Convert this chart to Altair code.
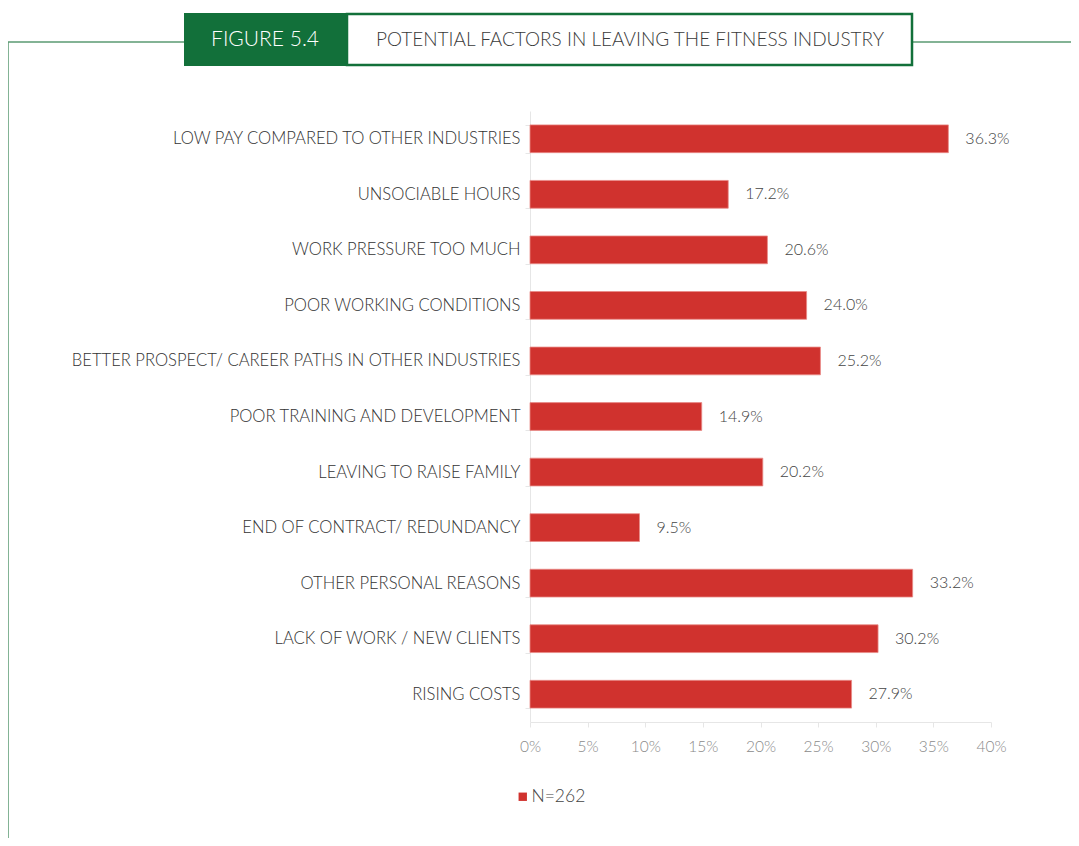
import altair as alt
import pandas as pd

categories = [
    "LOW PAY COMPARED TO OTHER INDUSTRIES",
    "UNSOCIABLE HOURS",
    "WORK PRESSURE TOO MUCH",
    "POOR WORKING CONDITIONS",
    "BETTER PROSPECT/ CAREER PATHS IN OTHER INDUSTRIES",
    "POOR TRAINING AND DEVELOPMENT",
    "LEAVING TO RAISE FAMILY",
    "END OF CONTRACT/ REDUNDANCY",
    "OTHER PERSONAL REASONS",
    "LACK OF WORK / NEW CLIENTS",
    "RISING COSTS",
]
values = [36.3, 17.2, 20.6, 24.0, 25.2, 14.9, 20.2, 9.5, 33.2, 30.2, 27.9]
series_name = "N=262"
x_ticks = [0, 5, 10, 15, 20, 25, 30, 35, 40]

RED = "#d0322e"
GREEN = "#12703a"
FONT = "Lato"

df = pd.DataFrame({"factor": categories, "pct": values, "series": [series_name] * len(values)})
df["label"] = [f"{v:.1f}%" for v in values]

W, H = 461, 611

y_enc = alt.Y(
    "factor:N", sort=categories, title=None,
    scale=alt.Scale(paddingInner=0.5, paddingOuter=0.25),
    axis=alt.Axis(labelFont=FONT, labelFontSize=16.6, labelFontWeight=300, labelColor="#333333",
                  labelPadding=5,
                  domainColor="#e6e6e6", tickColor="#e6e6e6", tickSize=5, tickBand="extent",
                  labelLimit=600),
)

bars = alt.Chart(df).mark_bar(stroke="#e88a86", strokeWidth=0.8).encode(
    y=y_enc,
    x=alt.X("pct:Q", title=None,
            scale=alt.Scale(domain=[0, 40], nice=False),
            axis=alt.Axis(values=x_ticks, labelExpr="datum.value + '%'", labelFont=FONT,
                          labelFontSize=15.5, labelFontWeight=300, labelColor="#8a8a8a",
                          labelPadding=12, labelFlush=False,
                          domainColor="#e6e6e6", tickColor="#e6e6e6", tickSize=5, grid=False)),
    color=alt.Color("series:N", scale=alt.Scale(range=[RED]),
                    legend=alt.Legend(title=None, orient="none", legendX=-16, legendY=677,
                                      symbolType="square", symbolSize=70, symbolStrokeWidth=0,
                                      labelFont=FONT, labelFontSize=17.5, labelFontWeight=300,
                                      labelColor="#444444", labelOffset=0)),
)

texts = alt.Chart(df).mark_text(align="left", dx=17, font=FONT, fontSize=16, fontWeight=300,
                                color="#444444").encode(
    y=alt.Y("factor:N", sort=categories),
    x="pct:Q",
    text="label:N",
)

# decorative frame (pixel positions relative to plot origin)
frame_h = alt.Chart(pd.DataFrame({"a": [0]})).mark_rule(color="#5a9a72", strokeWidth=1.5).encode(
    x=alt.value(-522), x2=alt.value(560), y=alt.value(-69))
frame_v = alt.Chart(pd.DataFrame({"a": [0]})).mark_rule(color="#5a9a72", strokeWidth=1.5).encode(
    x=alt.value(-522), y=alt.value(-69), y2=alt.value(740))
box_green = alt.Chart(pd.DataFrame({"a": [0]})).mark_rect(color=GREEN).encode(
    x=alt.value(-346), x2=alt.value(-183), y=alt.value(-98), y2=alt.value(-45))
box_white = alt.Chart(pd.DataFrame({"a": [0]})).mark_rect(fill="white", stroke=GREEN, strokeWidth=2.5).encode(
    x=alt.value(-183), x2=alt.value(382), y=alt.value(-97), y2=alt.value(-46))
fig_text = alt.Chart(pd.DataFrame({"t": ["FIGURE 5.4"]})).mark_text(
    font=FONT, fontSize=21, fontWeight=300, color="white", align="center", baseline="middle").encode(
    x=alt.value(-265), y=alt.value(-71), text="t:N")
title_text = alt.Chart(pd.DataFrame({"t": ["POTENTIAL FACTORS IN LEAVING THE FITNESS INDUSTRY"]})).mark_text(
    font=FONT, fontSize=19, fontWeight=300, color="#3a3a3a", align="center", baseline="middle").encode(
    x=alt.value(100), y=alt.value(-71), text="t:N")

chart = alt.layer(frame_h, frame_v, box_green, box_white, fig_text, title_text, bars, texts).properties(
    width=W, height=H,
    autosize=alt.AutoSizeParams(type="none"),
    padding={"left": 522, "top": 103, "right": 80, "bottom": 116},
    background="white",
).configure_view(stroke=None)

chart.save("out.html", embed_options={"renderer": "svg", "actions": False})
